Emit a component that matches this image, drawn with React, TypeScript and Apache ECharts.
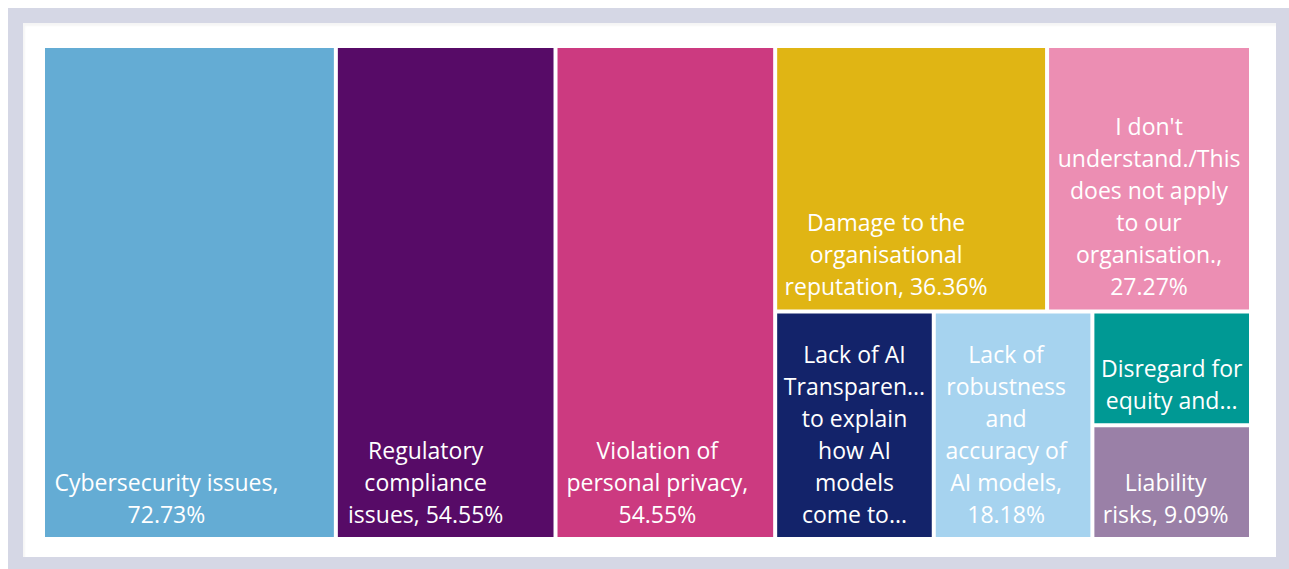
import React, { useEffect, useRef } from "react";
import * as echarts from "echarts";

// Categories and their share of respondents (%)
const categories = [
  "Cybersecurity issues",
  "Regulatory compliance issues",
  "Violation of personal privacy",
  "Damage to the organisational reputation",
  "I don't understand./This does not apply to our organisation.",
  "Lack of AI Transparency to explain how AI models come to...",
  "Lack of robustness and accuracy of AI models",
  "Disregard for equity and...",
  "Liability risks",
];
const values = [72.73, 54.55, 54.55, 36.36, 27.27, 18.18, 18.18, 9.09, 9.09];

// Label text as it is wrapped in the picture; {v} is replaced by the value
const labelTexts = [
  "Cybersecurity issues,\n{v}",
  "Regulatory\ncompliance\nissues, {v}",
  "Violation of\npersonal privacy,\n{v}",
  "Damage to the\norganisational\nreputation, {v}",
  "I don't\nunderstand./This\ndoes not apply\nto our\norganisation.,\n{v}",
  "Lack of AI\nTransparen...\nto explain\nhow AI\nmodels\ncome to...",
  "Lack of\nrobustness\nand\naccuracy of\nAI models,\n{v}",
  "Disregard for\nequity and...",
  "Liability\nrisks, {v}",
];

// styles (kept apart from the data)
const colors = [
  "#64acd4",
  "#570b67",
  "#cc3a80",
  "#e0b514",
  "#ec8eb3",
  "#13236a",
  "#a6d3ef",
  "#009994",
  "#9a80a7",
];
const labelShift = [-23, -20, -8, -25, 0, 0, -7, 0, -6];

export default function App() {
  const ref = useRef<HTMLDivElement>(null);

  useEffect(() => {
    if (!ref.current) return;
    const chart = echarts.init(ref.current, undefined, { renderer: "svg" });
    const data = categories.map((name, i) => ({
      name,
      value: values[i],
      itemStyle: { color: colors[i] },
      label: {
        formatter: labelTexts[i].replace("{v}", values[i].toFixed(2) + "%"),
        padding: [0, labelShift[i] < 0 ? -2 * labelShift[i] : 0, 7, labelShift[i] > 0 ? 2 * labelShift[i] : 0],
      },
    }));
    chart.setOption({
      animation: false,
      tooltip: { show: false },
      series: [
        {
          type: "treemap",
          left: 22,
          top: 25,
          width: 1204,
          height: 489,
          roam: false,
          nodeClick: false,
          silent: true,
          sort: false,
          squareRatio: 0.75,
          breadcrumb: { show: false },
          label: {
            show: true,
            position: "insideBottom",
            color: "#ffffff",
            fontFamily: "Open Sans",
            fontSize: 23,
            lineHeight: 32,
            overflow: "none",
          },
          upperLabel: { show: false },
          itemStyle: { borderWidth: 0, gapWidth: 4 },
          levels: [{ itemStyle: { borderWidth: 0, gapWidth: 4 } }],
          data,
        },
      ],
    });
    return () => chart.dispose();
  }, []);

  return (
    <div
      style={{
        position: "fixed",
        left: 8,
        top: 8,
        right: 0,
        bottom: 0,
        background: "#d5d7e5",
      }}
    >
      <div
        style={{
          position: "absolute",
          left: 15,
          top: 15,
          width: 1253,
          height: 534,
          background: "#ffffff",
          boxShadow: "inset 2px 3px 2px rgba(0,0,0,0.04)",
        }}
      >
        <div ref={ref} style={{ width: 1253, height: 534 }} />
      </div>
    </div>
  );
}
